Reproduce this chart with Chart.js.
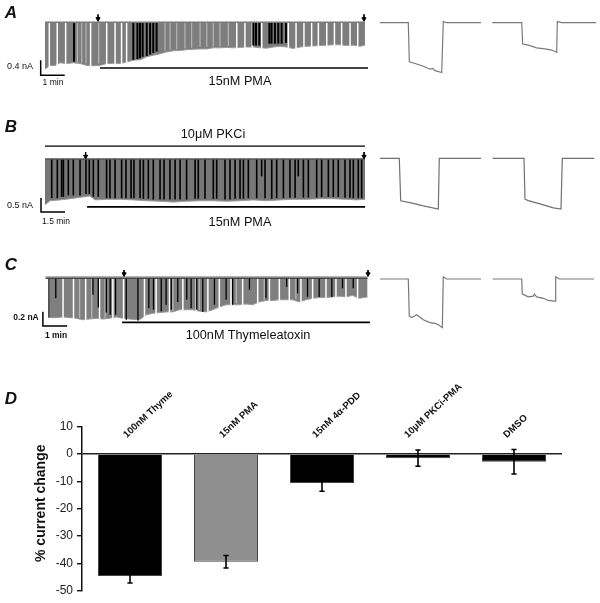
<!DOCTYPE html>
<html><head><meta charset="utf-8">
<style>
html,body{margin:0;padding:0;background:#fff;overflow:hidden}
#page{position:relative;width:600px;height:603px;font-family:"Liberation Sans",Arial,sans-serif;color:#111;filter:blur(.3px)}
canvas{position:absolute}
.t{position:absolute;white-space:nowrap;transform:translate(-50%,-50%);line-height:1}
</style>
<script src="https://cdn.jsdelivr.net/npm/chart.js@4"></script>
</head><body><div id="page"></div>
<script>
// ---------- Panel A (minutes, nA) ----------
const aEnvT=[0,.21,.42,.63,.90,1.18,1.46,1.74,2.01,2.29,2.57,2.85,3.13,3.40,3.68,3.96,4.24,4.51,4.79,5.07,5.35,5.63,5.90,6.18,6.46,6.74,7.01,7.29,7.57,7.85,8.13,8.40,8.68,8.96,9.24,9.51,9.79,10.07,10.35,10.63,10.90,11.18,11.46,11.74,12.01,12.29,12.57,12.85,13.13,13.33];
const aEnvD=[1.25,1.15,1.15,1.08,1.10,1.08,1.10,1.15,1.16,1.15,1.10,1.10,1.10,1.06,1.01,1.00,.92,.88,.84,.79,.76,.75,.73,.72,.71,.71,.68,.68,.67,.68,.67,.66,.66,.68,.69,.66,.64,.66,.70,.66,.64,.63,.62,.61,.60,.60,.62,.61,.64,.61];
const aWhiteT=[.18,.51,.86,1.90,2.57,2.92,3.19,3.40,7.99,8.33,8.64,9.03,10.14,10.46,10.79,11.11,11.39,11.74,12.06,12.36,12.71,13.03];
const aLightT=[1.35,1.53,1.71,2.24,5.0,5.21,5.49,5.83,6.11,6.46,6.74,7.01,7.29,7.64];
const aLightD=[1.08,1.08,1.10,1.10,.76,.74,.72,.70,.68,.66,.65,.65,.64,.63];
const aBlackT=[1.21,3.68,3.85,3.96,4.07,4.24,4.38,4.51,4.65,8.68,8.79,8.93,9.35,9.44,9.58,9.72,9.86,10.04];
const aBlackD=[1.05,1.00,.98,.96,.92,.90,.86,.82,.78,.62,.62,.62,.57,.57,.57,.57,.57,.55];
const aArrowT=[2.21,13.29];
const aDrugT=[2.29,13.46];
// ---------- Panel B ----------
const bEnvT=[0,.31,.94,1.56,2.19,2.81,3.13,3.85,4.69,5.52,6.35,7.19,8.02,8.85,9.69,10.52,11.35,12.19,13.02,13.85,14.69,15.52,16.35,17.19,18.02,18.85,19.48,20];
const bEnvD=[1.64,1.49,1.46,1.42,1.37,1.32,1.46,1.44,1.44,1.46,1.49,1.51,1.54,1.51,1.49,1.49,1.51,1.49,1.46,1.49,1.46,1.44,1.44,1.42,1.42,1.44,1.46,1.44];
const bBlackT=[.42,.77,1.04,1.15,1.46,1.77,2.19,2.56,2.77,3.02,3.33,3.85,4.06,4.38,4.79,5.06,5.38,5.56,5.94,6.15,6.46,6.77,7.19,7.44,7.81,8.13,8.44,8.85,9.38,9.58,10.0,10.52,10.73,11.25,11.56,11.88,12.19,12.40,12.71,13.23,13.54,13.75,14.17,14.48,14.90,15.31,15.63,15.83,16.15,16.46,16.98,17.29,17.71,18.02,18.33,18.75,19.06,19.27,19.58,19.79];
const bBlackD=[1.4,1.4,1.35,1.35,1.3,1.3,1.3,1.25,1.25,1.35,1.35,1.4,1.4,1.4,1.4,1.4,1.4,1.4,1.4,1.42,1.42,1.45,1.45,1.45,1.45,1.45,1.45,1.45,1.42,1.42,1.42,1.42,1.42,1.45,1.45,1.42,1.42,1.42,1.4,1.4,.62,1.4,1.42,1.4,1.4,1.38,1.38,.62,1.38,1.38,1.38,1.36,1.36,1.36,1.36,1.38,1.38,1.4,1.4,1.4];
const bArrowT=[2.54,19.94];
const bDrugPKCiT=[0,20];
const bDrugPMAT=[2.63,20];
// ---------- Panel C ----------
const cEnvT=[.07,.34,.62,.89,1.16,1.44,1.71,1.99,2.26,2.53,2.81,3.08,3.36,3.77,4.04,4.32,4.59,4.86,5.14,5.41,5.68,5.96,6.23,6.51,6.78,7.05,7.33,7.60,7.88,8.15,8.42,8.70,8.97,9.25,9.52,9.79,10.07,10.34,10.62,10.89,11.16,11.44,11.71,11.99,12.26,12.53,12.81,13.15];
const cEnvD=[.55,.55,.54,.55,.56,.58,.57,.56,.57,.56,.54,.56,.57,.58,.51,.49,.48,.47,.47,.44,.44,.44,.46,.47,.44,.40,.37,.37,.37,.36,.37,.33,.31,.31,.30,.30,.30,.33,.30,.28,.27,.27,.26,.25,.26,.24,.28,.26];
const cWhiteT=[.62,1.05,1.55,2.12,2.67,3.11,3.97,4.45,5.0,5.55,6.10,6.58,7.05,7.53,8.01,8.63,9.11,9.52,9.93,10.41,10.89,11.44,11.85,12.26,12.74];
const cLightT=[1.30,1.80,2.35,5.14,6.23,7.75,8.90,10.2];
const cLightD=[.55,.55,.55,.46,.44,.35,.30,.29];
const cBlackT=[.04,.32,1.85,2.07,2.40,2.56,2.78,3.22,3.70,4.15,4.34,4.66,4.86,5.07,5.34,5.71,5.89,6.12,6.37,6.85,7.33,7.60,8.29,8.97,9.82,10.27,10.68,11.16,11.68,12.12,12.56];
const cBlackD=[.55,.28,.23,.41,.48,.51,.51,.58,.59,.42,.44,.46,.37,.44,.33,.30,.42,.44,.47,.37,.30,.37,.16,.28,.12,.21,.26,.26,.26,.14,.14];
const cArrowT=[3.13,13.17];
const cDrugT=[3.05,13.25];
// ---------- Single-sweep insets (ms, nA) ----------
const a1T=[0,28.3,29.3,36.7,43.3,50,52.7,55,61.7,63.3,66.7,101];
const a1I=[0,0,-1.04,-1.10,-1.16,-1.24,-1.22,-1.28,-1.33,.03,0,0];
const a2T=[112.3,141.7,142.7,148.3,156.7,165,171.7,176.7,177.3,181.7,216];
const a2I=[0,0,-.57,-.60,-.67,-.70,-.73,-.79,.03,0,0];
const b1T=[0,19.3,20.7,33.3,43.3,58.3,59.3,101];
const b1I=[0,0,-1.52,-1.61,-1.70,-1.81,0,0];
const b2T=[112.7,144,145,148.3,160,173.3,181,182.3,214.3];
const b2I=[0,0,-1.46,-1.51,-1.63,-1.77,-1.81,0,0];
const c1T=[0,28.3,29.3,31.7,36.7,43.3,50,55,58.3,62.3,63.3,66.7,101];
const c1I=[0,0,-.52,-.54,-.50,-.57,-.61,-.62,-.64,-.68,.03,0,0];
const c2T=[112.7,141.7,142.3,148.3,153.3,154.3,156.7,163.3,168.3,175,175.7,179.3,214];
const c2I=[0,0,-.21,-.25,-.24,-.21,-.25,-.27,-.30,-.31,.03,0,0];
// ---------- Panel D ----------
const dLabels=['100nM Thyme','15nM PMA','15nM 4\u03B1-PDD','10\u03BCM PKCi-PMA','DMSO'];
const dMeans=[-44.6,-39.4,-10.6,-1.5,-2.8];
const dErrLow=[-47.2,-41.7,-13.6,-4.5,-7.3];
const dErrHigh=[-42.0,-37.1,-7.6,1.5,1.7];
const dColors=['#000000','#8f8f8f','#000000','#000000','#000000'];
const dTitle='% current change';

const page=document.getElementById('page');
Chart.defaults.animation=false;
Chart.defaults.font.family='"Liberation Sans",Arial,sans-serif';
const zip=(xs,ys,f=v=>v)=>xs.map((x,i)=>({x,y:f(ys[i])}));
const neg=v=>-v;

function mkCanvas(r){
  const c=document.createElement('canvas');
  c.width=r.w;c.height=r.h;c.style.left=r.x+'px';c.style.top=r.y+'px';
  c.style.width=r.w+'px';c.style.height=r.h+'px';
  page.appendChild(c);return c;
}
function traceChart(r,ox,oy,xPerPx,yPerPx,datasets){
  new Chart(mkCanvas(r),{type:'line',data:{datasets},options:{
    responsive:false,devicePixelRatio:1,layout:{padding:0,autoPadding:false},
    plugins:{legend:{display:false},tooltip:{enabled:false}},
    scales:{
      x:{type:'linear',display:false,offset:false,min:(r.x-ox)*xPerPx,max:(r.x+r.w-ox)*xPerPx},
      y:{type:'linear',display:false,min:(oy-r.y-r.h)*yPerPx,max:(oy-r.y)*yPerPx}
    }}});
}
const line=(data,color,width,order)=>({type:'line',data,borderColor:color,borderWidth:width,pointRadius:0,tension:0,fill:false,order});
const envelope=(data,fill)=>({type:'line',data,borderColor:'#9a9a9a',borderWidth:1,backgroundColor:fill,fill:{value:0},pointRadius:0,tension:0,order:9});
const pulses=(ts,depth,color,thick,order)=>({type:'bar',data:ts.map((t,i)=>({x:t,y:[0,-(Array.isArray(depth)?depth[i]:depth)]})),backgroundColor:color,barThickness:thick,maxBarThickness:thick,inflateAmount:0,grouped:false,order});
const arrow=(t,top,tip)=>({type:'line',data:[{x:t,y:top},{x:t,y:tip}],borderColor:'#000',backgroundColor:'#000',borderWidth:1,tension:0,pointStyle:'triangle',pointRotation:180,pointRadius:[0,2.4],order:1});
const scaleBar=(t,i,dt,di)=>line([{x:t,y:i+di},{x:t,y:i},{x:t+dt,y:i}],'#000',1.5,1);
const span=(ts,y,w)=>line([{x:ts[0],y},{x:ts[1],y}],'#000',w,1);

// A
traceChart({x:0,y:0,w:380,h:100},45,22.3,1/24,0.4/15,[
  envelope(zip(aEnvT,aEnvD,neg),'#7d7d7d'),
  pulses(aWhiteT,1.30,'#ffffff',1.5,6),
  pulses(aLightT,aLightD,'#b5b5b5',1.2,7),
  pulses(aBlackT,aBlackD,'#000000',2,5),
  line([{x:0,y:0},{x:13.33,y:0}],'#7a7a7a',1.6,4),
  arrow(aArrowT[0],.21,.09),arrow(aArrowT[1],.21,.09),
  span(aDrugT,-1.22,1.6),
  scaleBar(-.18,-1.41,1,.4)
]);
// B
traceChart({x:0,y:125,w:380,h:100},45,159,1.5/24,0.5/14,[
  envelope(zip(bEnvT,bEnvD,neg),'#777777'),
  pulses(bBlackT,bBlackD,'#000000',1.6,5),
  line([{x:0,y:0},{x:20,y:0}],'#555555',1.4,4),
  arrow(bArrowT[0],.25,.09),arrow(bArrowT[1],.25,.09),
  span(bDrugPKCiT,.46,1.4),span(bDrugPMAT,-1.71,1.6),
  scaleBar(-.25,-1.89,1.5,.5)
]);
// C
traceChart({x:0,y:262,w:380,h:75},48,278.3,1/24.3,0.2/14.3,[
  envelope(zip(cEnvT,cEnvD,neg),'#7f7f7f'),
  pulses(cWhiteT,.62,'#ffffff',1.5,6),
  pulses(cLightT,cLightD,'#b5b5b5',1.4,7),
  pulses(cBlackT,cBlackD,'#000000',1.3,5),
  line([{x:-.1,y:.012},{x:13.15,y:.012}],'#9a9a9a',2.2,4),
  line([{x:-.1,y:0},{x:13.15,y:0}],'#222222',.9,3),
  arrow(cArrowT[0],.115,.06),arrow(cArrowT[1],.115,.06),
  span(cDrugT,-.616,1.6),
  scaleBar(-.21,-.668,1,.2)
]);
// Insets
const inset=(r,oy,k,t1,i1,t2,i2,col)=>traceChart(r,r.x,oy,1,k,[
  line(zip(t1,i1),col,1.2,1),line(zip(t2,i2),col,1.2,1)]);
inset({x:380,y:10,w:220,h:70},22.7,0.4/15,a1T,a1I,a2T,a2I,'#7a7a7a');
inset({x:380,y:150,w:220,h:70},158.3,0.5/14,b1T,b1I,b2T,b2I,'#707070');
inset({x:380,y:270,w:220,h:65},279,0.2/14.3,c1T,c1I,c2T,c2I,'#787878');

// D: slanted category names sit inside the plot's top band, title is placed beside the axis
const dLabelDx=[-5,-5,-8,-12,-9];
const dText={id:'dText',afterDraw(chart){
  const {ctx,scales:{x,y}}=chart;
  ctx.save();
  ctx.fillStyle='#111';ctx.textBaseline='middle';ctx.textAlign='left';
  ctx.font='bold 9.6px "Liberation Sans",Arial,sans-serif';
  dLabels.forEach((s,i)=>{
    ctx.save();
    ctx.translate(x.getPixelForTick(i)+dLabelDx[i],y.top+9.5);
    ctx.rotate(-43*Math.PI/180);
    ctx.fillText(s,0,0);
    ctx.restore();
  });
  ctx.translate(41,y.getPixelForValue(-18));
  ctx.rotate(-Math.PI/2);
  ctx.textAlign='center';
  ctx.font='bold 14px "Liberation Sans",Arial,sans-serif';
  ctx.fillText(dTitle,0,0);
  ctx.restore();
}};
new Chart(mkCanvas({x:0,y:380,w:600,h:223}),{
  data:{labels:dLabels,datasets:[
    {type:'bar',data:dMeans,backgroundColor:dColors,borderColor:'#444',borderWidth:1,barPercentage:.667,categoryPercentage:1,grouped:false,order:5},
    {type:'bar',data:dLabels.map((_,i)=>[dErrLow[i],dErrHigh[i]]),backgroundColor:'#000',barThickness:1.6,maxBarThickness:1.6,inflateAmount:0,grouped:false,order:2},
    {type:'line',data:dErrLow,showLine:false,pointStyle:'line',pointRadius:2.6,borderColor:'#000',borderWidth:1.5,order:1},
    {type:'line',data:dErrHigh,showLine:false,pointStyle:'line',pointRadius:2.6,borderColor:'#000',borderWidth:1.5,order:1}
  ]},
  plugins:[dText],
  options:{responsive:false,devicePixelRatio:1,
    layout:{autoPadding:false,padding:{left:0,right:38,top:46.7,bottom:12.3}},
    plugins:{legend:{display:false},tooltip:{enabled:false}},
    scales:{
      x:{display:false,offset:true,grid:{display:false}},
      y:{min:-50,max:10,
        grid:{color:c=>c.tick&&c.tick.value===0?'#222':'transparent',lineWidth:1.4,tickColor:'#111',tickLength:5,drawTicks:true},
        border:{display:true,color:'#111',width:1.5},
        ticks:{stepSize:10,color:'#222',padding:4,font:{size:12}},
        afterFit:s=>{s.width=82}}
    }}});

// Text
const texts=[
 ['A',11,13,'italic bold 17px'],['B',11,127,'italic bold 17px'],['C',11,265,'italic bold 17px'],['D',11,399,'italic bold 17px'],
 ['0.4 nA',20,66,'9px'],['1 min',53,82,'8.5px'],['15nM PMA',240,80.5,'12.7px'],
 ['10\u03BCM PKCi',213,134,'12.7px'],['0.5 nA',20,205,'9px'],['1.5 min',56,221,'8.5px'],['15nM PMA',240,222,'12.7px'],
 ['0.2 nA',26,317,'bold 8.5px'],['1 min',56,335,'bold 8.5px'],['100nM Thymeleatoxin',248,335,'12.7px']
];
texts.forEach(([s,x,y,f])=>{
  const d=document.createElement('div');d.className='t';d.textContent=s;
  d.style.left=x+'px';d.style.top=y+'px';
  d.style.font=f+' "Liberation Sans",Arial,sans-serif';
  page.appendChild(d);
});
</script></body></html>
